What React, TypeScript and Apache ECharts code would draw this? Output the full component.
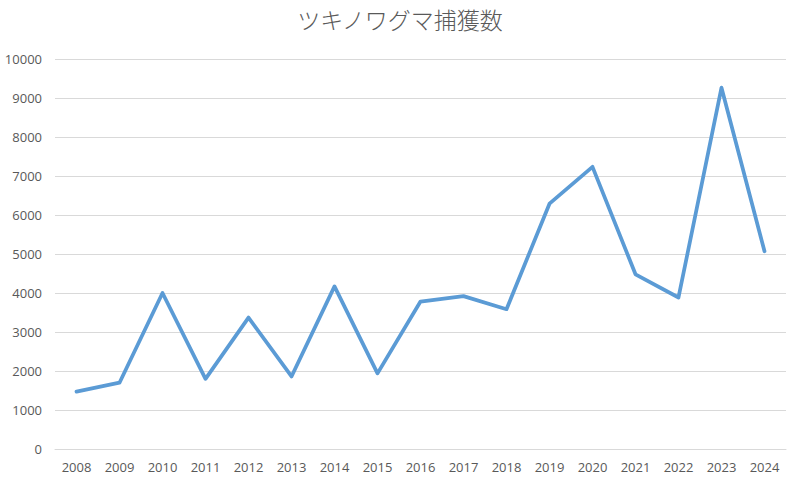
import React, { useEffect, useRef } from "react";
import * as echarts from "echarts";

const years = ["2008","2009","2010","2011","2012","2013","2014","2015","2016","2017","2018","2019","2020","2021","2022","2023","2024"];
const captures = [1470, 1700, 4000, 1800, 3370, 1860, 4170, 1940, 3780, 3920, 3585, 6290, 7235, 4480, 3885, 9265, 5070];
const titleText = "ツキノワグマ捕獲数";

export default function App() {
  const ref = useRef<HTMLDivElement>(null);
  useEffect(() => {
    if (!ref.current) return;
    const chart = echarts.init(ref.current, null, { renderer: "svg" });
    chart.setOption({
      animation: false,
      backgroundColor: "#ffffff",
      title: {
        text: titleText,
        left: "center",
        top: 2,
        textStyle: { fontFamily: "Noto Sans CJK JP", fontSize: 23, fontWeight: 300, color: "#595959" },
      },
      grid: { left: 55, right: 14, top: 59, bottom: 35 },
      xAxis: {
        type: "category",
        data: years,
        boundaryGap: true,
        axisLine: { show: true, lineStyle: { color: "#d9d9d9", width: 1 } },
        axisTick: { show: false },
        axisLabel: { color: "#595959", fontSize: 13, fontFamily: "Open Sans, sans-serif", margin: 11 },
      },
      yAxis: {
        type: "value",
        min: 0,
        max: 10000,
        interval: 1000,
        axisLine: { show: false },
        axisTick: { show: false },
        axisLabel: {
          color: "#595959",
          fontSize: 13,
          fontFamily: "Open Sans, sans-serif",
          margin: 13,
          formatter: (v: number) => String(v),
        },
        splitLine: { lineStyle: { color: "#d9d9d9", width: 1 } },
      },
      series: [
        {
          type: "line",
          data: captures,
          symbol: "none",
          lineStyle: { color: "#5b9bd5", width: 3.75, cap: "round", join: "round" },
        },
      ],
    });
    return () => chart.dispose();
  }, []);
  return <div ref={ref} style={{ width: 800, height: 484, position: "absolute", left: 0, top: 0 }} />;
}
